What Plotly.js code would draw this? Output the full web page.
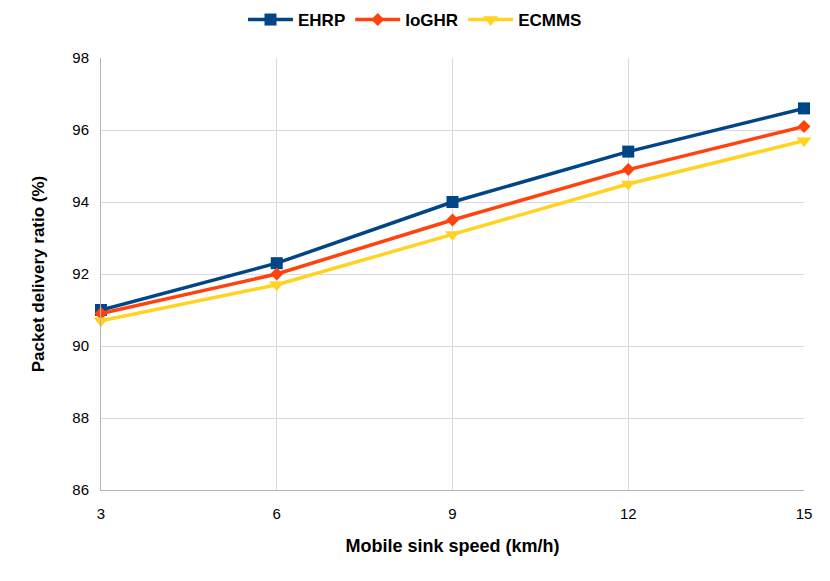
<!DOCTYPE html>
<html><head><meta charset="utf-8">
<script src="https://cdn.plot.ly/plotly-3.0.1.min.js"></script>
<style>body{margin:0;background:#fff}#c{width:830px;height:581px}</style>
</head><body><div id="c"></div>
<script>
const speeds = [3, 6, 9, 12, 15];
const ehrp = [91.0, 92.3, 94.0, 95.4, 96.6];
const ioghr = [90.9, 92.0, 93.5, 94.9, 96.1];
const ecmms = [90.7, 91.7, 93.1, 94.5, 95.7];
const traces = [
  {name:'EHRP', x:speeds, y:ehrp, mode:'lines+markers', cliponaxis:false, line:{color:'#004586', width:3.5}, marker:{symbol:'square', size:12, color:'#004586'}},
  {name:'IoGHR', x:speeds, y:ioghr, mode:'lines+markers', cliponaxis:false, line:{color:'#ff420e', width:3.5}, marker:{symbol:'diamond', size:10, color:'#ff420e'}},
  {name:'ECMMS', x:speeds, y:ecmms, mode:'lines+markers', cliponaxis:false, line:{color:'#ffd320', width:3.5}, marker:{symbol:'triangle-down', size:13, color:'#ffd320'}}
];
const layout = {
  width:830, height:581,
  margin:{l:101, r:26, t:58, b:91},
  paper_bgcolor:'#fff', plot_bgcolor:'#fff',
  font:{family:'Liberation Sans, Arial, sans-serif', size:15, color:'#000'},
  showlegend:true,
  legend:{orientation:'h', x:0.5, xanchor:'center', xref:'container', y:0.9656, yanchor:'middle', yref:'container', font:{size:17, family:'Liberation Sans, Arial, sans-serif', weight:'bold'}, itemwidth:45, tracegroupgap:0},
  xaxis:{range:[3,15], tickvals:speeds, ticks:'', ticklabelstandoff:10, showgrid:true, gridcolor:'#d9d9d9', zeroline:false, showline:true, linecolor:'#b3b3b3', mirror:false,
    title:{text:'<b>Mobile sink speed (km/h)</b>', font:{size:18}, standoff:18}},
  yaxis:{range:[86,98], dtick:2, ticks:'', ticklabelstandoff:8, showgrid:true, gridcolor:'#d9d9d9', zeroline:false, showline:true, linecolor:'#b3b3b3',
    title:{text:'<b>Packet delivery ratio (%)</b>', font:{size:17}, standoff:23}}
};
Plotly.newPlot('c', traces, layout, {displayModeBar:false});
</script></body></html>
